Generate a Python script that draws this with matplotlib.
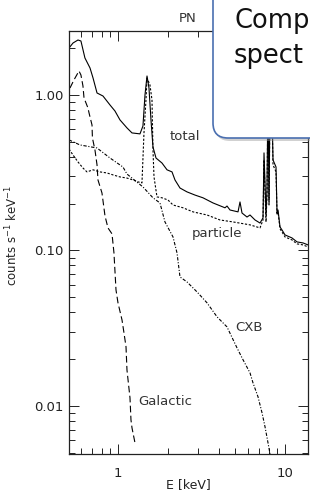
import matplotlib
matplotlib.use("Agg")
import matplotlib.pyplot as plt
import matplotlib.ticker as ticker
from matplotlib.patches import FancyBboxPatch
from matplotlib.transforms import IdentityTransform

plt.rcParams['font.family'] = ['DejaVu Sans']

# energy [keV] / counts s^-1 keV^-1
total_e = [0.509, 0.538, 0.576, 0.600, 0.634, 0.680, 0.709, 0.749, 0.813, 0.896,
           0.959, 1.028, 1.132, 1.213, 1.354, 1.411, 1.451, 1.492, 1.533, 1.576,
           1.620, 1.689, 1.834, 1.966, 2.106, 2.194, 2.351, 2.589, 2.892, 3.228,
           3.707, 4.373, 4.495, 4.685, 5.232, 5.377, 5.528, 5.922, 6.172, 6.613,
           7.085, 7.384, 7.487, 7.696, 7.802, 7.911, 8.021, 8.133, 8.360, 8.476,
           8.835, 8.959, 9.082, 9.335, 9.595, 10.0, 11.01, 11.80, 12.82, 13.73]
total_c = [2.005, 2.160, 2.258, 2.225, 1.730, 1.492, 1.286, 1.030, 0.985, 0.862,
           0.789, 0.691, 0.614, 0.570, 0.562, 0.632, 1.000, 1.325, 1.109, 0.691,
           0.463, 0.393, 0.365, 0.330, 0.320, 0.284, 0.252, 0.238, 0.227, 0.218,
           0.202, 0.188, 0.193, 0.182, 0.177, 0.205, 0.174, 0.164, 0.169, 0.157,
           0.150, 0.162, 0.424, 0.169, 0.245, 1.077, 0.211, 0.929, 0.801, 0.382,
           0.344, 0.174, 0.182, 0.1416, 0.1354, 0.1258, 0.1203, 0.1134, 0.1117, 0.1085]

galactic_e = [0.516, 0.545, 0.584, 0.600, 0.617, 0.626, 0.661, 0.671, 0.699, 0.703,
              0.728, 0.749, 0.759, 0.802, 0.836, 0.871, 0.921, 0.946, 0.973, 1.000,
              1.057, 1.086, 1.117, 1.132, 1.180, 1.196, 1.213, 1.264]
galactic_c = [1.109, 1.249, 1.427, 1.345, 1.143, 0.957, 0.825, 0.766, 0.641, 0.529,
              0.443, 0.355, 0.284, 0.234, 0.1667, 0.1396, 0.1277, 0.0964, 0.0557, 0.0460,
              0.0357, 0.0295, 0.0240, 0.0170, 0.01126, 0.00813, 0.00722, 0.00578]

cxb_e = [0.509, 0.592, 0.749, 0.896, 1.071, 1.132, 1.411, 1.620, 1.784, 1.911,
         2.135, 2.256, 2.351, 2.589, 2.972, 3.412, 3.916, 4.495, 5.159, 5.605,
         6.172, 6.433, 6.893, 7.284, 7.592, 7.911, 8.133]
cxb_c = [0.514, 0.477, 0.456, 0.393, 0.344, 0.310, 0.256, 0.218, 0.202, 0.1525,
         0.1221, 0.0964, 0.0675, 0.0627, 0.0541, 0.0460, 0.0374, 0.0322, 0.0236, 0.0198,
         0.0163, 0.01405, 0.01143, 0.00902, 0.00733, 0.00578, 0.00491]

particle_e = [0.509, 0.538, 0.576, 0.617, 0.652, 0.709, 0.780, 0.859, 0.934, 1.028,
              1.132, 1.230, 1.318, 1.392, 1.431, 1.471, 1.492, 1.554, 1.598, 1.620,
              1.643, 1.712, 1.834, 1.993, 2.135, 2.451, 2.813, 3.412, 4.081, 4.883,
              6.172, 7.085, 7.384, 7.487, 7.696, 7.802, 7.911, 8.021, 8.133, 8.360,
              8.476, 8.835, 8.959, 9.082, 9.335, 9.595, 10.0, 11.01, 11.80, 12.82, 13.73]
particle_c = [0.449, 0.411, 0.371, 0.339, 0.320, 0.330, 0.320, 0.315, 0.306, 0.297,
              0.292, 0.284, 0.276, 0.272, 0.570, 0.929, 1.286, 1.160, 0.929, 0.443,
              0.297, 0.221, 0.218, 0.211, 0.196, 0.188, 0.177, 0.169, 0.157, 0.1525,
              0.146, 0.1396, 0.157, 0.382, 0.1525, 0.227, 1.000, 0.196, 0.862, 0.744,
              0.355, 0.320, 0.169, 0.177, 0.1375, 0.1315, 0.1221, 0.1168, 0.1102, 0.1085, 0.1053]

x_ticks = [1, 10]
x_labels = ["1", "10"]
y_ticks = [0.01, 0.1, 1.0]
y_labels = ["0.01", "0.10", "1.00"]

# visible part of the callout text
callout_lines = ["Comp", "spect"]


def main():
    fig = plt.figure(figsize=(3.1, 4.98), dpi=100)
    ax = fig.add_axes([69 / 310, 44 / 498, 239 / 310, 423 / 498])

    kw = dict(color='black', lw=0.8)
    ax.plot(total_e, total_c, ls='-', **kw)
    ax.plot(galactic_e, galactic_c, ls=(0, (6, 3)), **kw)
    ax.plot(cxb_e, cxb_c, ls=(0, (3, 1.5, 1, 1.5)), **kw)
    ax.plot(particle_e, particle_c, ls=(0, (2, 1.5)), **kw)

    ax.set_xscale('log')
    ax.set_yscale('log')
    ax.set_xlim(0.509, 13.73)
    ax.set_ylim(0.0049, 2.58)

    ax.xaxis.set_major_locator(ticker.FixedLocator(x_ticks))
    ax.xaxis.set_major_formatter(ticker.FixedFormatter(x_labels))
    ax.yaxis.set_major_locator(ticker.FixedLocator(y_ticks))
    ax.yaxis.set_major_formatter(ticker.FixedFormatter(y_labels))
    ax.xaxis.set_minor_locator(ticker.LogLocator(base=10, subs=range(2, 10)))
    ax.yaxis.set_minor_locator(ticker.LogLocator(base=10, subs=range(2, 10)))
    ax.xaxis.set_minor_formatter(ticker.NullFormatter())
    ax.yaxis.set_minor_formatter(ticker.NullFormatter())

    ax.tick_params(which='both', direction='in', top=True, right=True,
                   width=0.7, colors='#222222', labelsize=9.5)
    ax.tick_params(which='major', length=7)
    ax.tick_params(which='minor', length=4)
    ax.tick_params(axis='x', pad=9)
    ax.tick_params(axis='y', pad=4)
    for s in ax.spines.values():
        s.set_linewidth(0.9)
        s.set_color('#222222')

    ax.set_ylabel(r'counts s$^{-1}$ keV$^{-1}$', fontsize=8.5, color='#222222')
    ax.yaxis.set_label_coords(-0.205, 0.517)
    ax.set_xlabel('E [keV]', fontsize=9, color='#222222')
    ax.xaxis.set_label_coords(0.5, -0.057)

    tk = dict(fontsize=9.5, color='#333333', ha='center', va='center')
    ax.text(2.518, 0.537, 'total', **tk)
    ax.text(3.916, 0.1277, 'particle', **tk)
    ax.text(6.086, 0.0318, 'CXB', **tk)
    ax.text(1.911, 0.01061, 'Galactic', **tk)

    fig.text(188 / 310, 1 - 18 / 498, 'PN', fontsize=9.5, color='#333333',
             ha='center', va='center')

    # callout box over the top right corner (pixel coordinates)
    H = 498
    shadow = FancyBboxPatch((215, H - 141), 140, 170,
                            boxstyle='round,pad=0,rounding_size=15',
                            transform=IdentityTransform(), facecolor='#999999',
                            edgecolor='none', alpha=0.45, zorder=5)
    box = FancyBboxPatch((213, H - 138), 140, 170,
                         boxstyle='round,pad=0,rounding_size=15',
                         transform=IdentityTransform(), facecolor='white',
                         edgecolor='#4a6fb0', lw=1.2, zorder=6)
    fig.add_artist(shadow)
    fig.add_artist(box)
    for line, base in zip(callout_lines, [28, 63]):
        fig.text(234 / 310, 1 - base / 498, line, fontsize=18.5, color='#111111',
                 va='baseline', ha='left', zorder=7)

    fig.savefig('out.png', dpi=100)


if __name__ == '__main__':
    main()
